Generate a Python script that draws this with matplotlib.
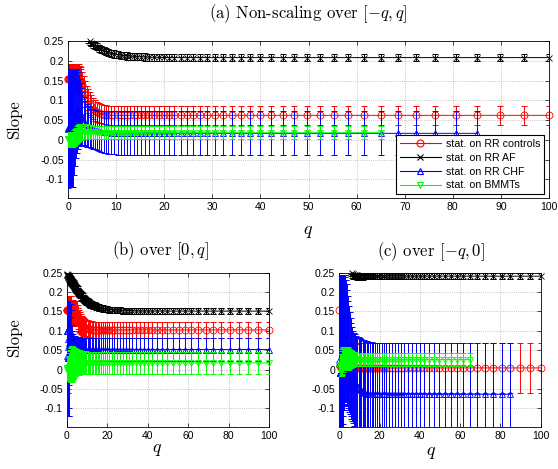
import matplotlib
matplotlib.use('Agg')
import matplotlib.pyplot as plt
from matplotlib.lines import Line2D

plt.rcParams['font.family'] = ['Liberation Sans', 'DejaVu Sans']
plt.rcParams['mathtext.fontset'] = 'cm'

# ---------------- q grid (same for all panels) ----------------
Q = [0, 0.1, 0.2, 0.3, 0.4, 0.5, 0.6, 0.7, 0.8, 0.9, 1.0,
     1.2, 1.4, 1.6, 1.8, 2.0, 2.2, 2.4, 2.6, 2.8, 3.0,
     3.3, 3.6, 3.9, 4.2, 4.5, 4.8, 5.2, 5.6, 6.0, 6.4,
     6.9, 7.4, 7.9, 8.4, 9.0, 9.6, 10.3, 11.0, 11.6, 12.3,
     12.9, 13.7, 14.4, 15.2, 16.0, 16.9, 17.9, 18.9, 19.9, 21.0,
     22.1, 23.4, 24.7, 26.0, 27.5, 29.0, 30.6, 32.3, 34.0, 35.9,
     37.9, 40.0, 42.2, 44.6, 47.0, 49.6, 52.4, 55.3, 58.3, 61.6,
     65.0, 68.6, 72.4, 76.4, 80.6, 85.0, 89.8, 94.7, 100.0]

# ---------------- (a) non-scaling over [-q, q] ----------------
A_RED_MEAN = [0.155, 0.155, 0.155, 0.155, 0.155, 0.155, 0.155, 0.155, 0.155, 0.155, 0.155,
              0.155, 0.155, 0.155, 0.155, 0.155, 0.155, 0.152, 0.149, 0.145, 0.138,
              0.129, 0.116, 0.106, 0.098, 0.091, 0.085, 0.079, 0.074, 0.071, 0.068,
              0.066, 0.064, 0.063, 0.0625, 0.062, 0.062, 0.062, 0.062, 0.062, 0.062,
              0.062, 0.062, 0.062, 0.062, 0.062, 0.062, 0.062, 0.062, 0.062, 0.062,
              0.062, 0.062, 0.062, 0.062, 0.062, 0.062, 0.062, 0.062, 0.062, 0.062,
              0.062, 0.062, 0.062, 0.062, 0.062, 0.062, 0.062, 0.062, 0.062, 0.062,
              0.062, 0.062, 0.062, 0.062, 0.062, 0.062, 0.062, 0.062, 0.062]
A_RED_ERR = [0.037, 0.037, 0.037, 0.037, 0.037, 0.037, 0.037, 0.037, 0.037, 0.037, 0.037,
             0.037, 0.037, 0.037, 0.037, 0.037, 0.037, 0.036, 0.036, 0.035, 0.034,
             0.033, 0.032, 0.031, 0.030, 0.029, 0.028, 0.027, 0.026, 0.025, 0.025,
             0.024, 0.024, 0.024, 0.024, 0.024, 0.024, 0.024, 0.024, 0.024, 0.024,
             0.024, 0.024, 0.024, 0.024, 0.024, 0.024, 0.024, 0.024, 0.024, 0.024,
             0.024, 0.024, 0.024, 0.024, 0.024, 0.024, 0.024, 0.024, 0.024, 0.024,
             0.024, 0.024, 0.024, 0.024, 0.024, 0.024, 0.024, 0.024, 0.024, 0.024,
             0.024, 0.024, 0.024, 0.024, 0.024, 0.024, 0.024, 0.024, 0.024]
A_BLACK_MEAN = [0.34, 0.335, 0.33, 0.325, 0.32, 0.316, 0.312, 0.308, 0.304, 0.3, 0.297,
                0.292, 0.288, 0.285, 0.282, 0.279, 0.2765, 0.2745, 0.2725, 0.2705, 0.2685,
                0.266, 0.263, 0.258, 0.254, 0.25, 0.246, 0.242, 0.238, 0.235, 0.232,
                0.229, 0.226, 0.223, 0.221, 0.219, 0.217, 0.2155, 0.214, 0.213, 0.212,
                0.2115, 0.211, 0.2105, 0.21, 0.2095, 0.209, 0.2087, 0.2085, 0.2083, 0.2082,
                0.208, 0.208, 0.208, 0.208, 0.208, 0.208, 0.208, 0.208, 0.208, 0.208,
                0.208, 0.208, 0.208, 0.208, 0.208, 0.208, 0.208, 0.208, 0.208, 0.208,
                0.208, 0.208, 0.208, 0.208, 0.208, 0.208, 0.208, 0.208, 0.208]
A_BLACK_ERR = [0.009, 0.009, 0.009, 0.009, 0.009, 0.009, 0.009, 0.009, 0.009, 0.009, 0.009,
               0.009, 0.009, 0.009, 0.009, 0.009, 0.009, 0.009, 0.009, 0.009, 0.009,
               0.009, 0.009, 0.009, 0.009, 0.009, 0.009, 0.009, 0.009, 0.009, 0.009,
               0.009, 0.009, 0.009, 0.009, 0.009, 0.009, 0.009, 0.009, 0.009, 0.009,
               0.009, 0.009, 0.009, 0.009, 0.009, 0.009, 0.009, 0.009, 0.009, 0.009,
               0.009, 0.009, 0.009, 0.009, 0.009, 0.009, 0.009, 0.009, 0.009, 0.009,
               0.009, 0.009, 0.009, 0.009, 0.009, 0.009, 0.009, 0.009, 0.009, 0.009,
               0.009, 0.009, 0.009, 0.009, 0.009, 0.009, 0.009, 0.009, 0.009]
A_BLUE_MEAN = [0.028, 0.029, 0.029, 0.029, 0.029, 0.029, 0.029, 0.029, 0.029, 0.029, 0.029,
               0.044, 0.0565, 0.0665, 0.072, 0.075, 0.0745, 0.071, 0.0655, 0.06, 0.054,
               0.047, 0.041, 0.037, 0.034, 0.0315, 0.0295, 0.0275, 0.026, 0.024, 0.023,
               0.022, 0.0205, 0.0195, 0.019, 0.018, 0.0178, 0.017, 0.0165, 0.0165, 0.0165,
               0.0165, 0.0165, 0.0165, 0.0165, 0.0165, 0.0165, 0.0165, 0.0165, 0.0165, 0.0165,
               0.0165, 0.0165, 0.0165, 0.0165, 0.0165, 0.0165, 0.0165, 0.0165, 0.0165, 0.0165,
               0.0165, 0.0165, 0.0165, 0.0165, 0.0165, 0.0165, 0.0165, 0.0165, 0.0165, 0.0165,
               0.0165, 0.0165, 0.0165, 0.0165, 0.0165, 0.0165]
A_BLUE_ERR = [0.15, 0.149, 0.149, 0.149, 0.149, 0.149, 0.149, 0.149, 0.149, 0.149, 0.149,
              0.134, 0.1215, 0.1115, 0.104, 0.097, 0.0905, 0.084, 0.0775, 0.072, 0.067,
              0.061, 0.057, 0.054, 0.052, 0.0505, 0.0495, 0.0495, 0.0495, 0.05, 0.051,
              0.0515, 0.0525, 0.0535, 0.054, 0.0545, 0.0548, 0.055, 0.0555, 0.0555, 0.0555,
              0.0555, 0.0555, 0.0555, 0.0555, 0.0555, 0.0555, 0.0555, 0.0555, 0.0555, 0.0555,
              0.0555, 0.0555, 0.0555, 0.0555, 0.0555, 0.0555, 0.0555, 0.0555, 0.0555, 0.0555,
              0.0555, 0.0555, 0.0555, 0.0555, 0.0555, 0.0555, 0.0555, 0.0555, 0.0555, 0.0555,
              0.0555, 0.0555, 0.0555, 0.0555, 0.0555, 0.0555]
A_GREEN_MEAN = [0.0015, 0.0015, 0.0015, 0.0015, 0.0015, 0.0015, 0.0015, 0.0015, 0.0015, 0.0015, 0.0015,
                0.004, 0.007, 0.01, 0.013, 0.016, 0.018, 0.0195, 0.02, 0.0205, 0.021,
                0.021, 0.0208, 0.0205, 0.02, 0.0197, 0.0193, 0.019, 0.0187, 0.0185, 0.018,
                0.018, 0.018, 0.018, 0.018, 0.018, 0.018, 0.018, 0.018, 0.018, 0.018,
                0.018, 0.018, 0.018, 0.018, 0.018, 0.018, 0.018, 0.018, 0.018, 0.018,
                0.018, 0.018, 0.018, 0.018, 0.018, 0.018, 0.018, 0.018, 0.018, 0.018,
                0.018, 0.018, 0.018, 0.018, 0.018, 0.018, 0.018, 0.018, 0.018, 0.018,
                0.018]
A_GREEN_ERR = [0.0195, 0.0195, 0.0195, 0.0195, 0.0195, 0.0195, 0.0195, 0.0195, 0.0195, 0.0195, 0.0195,
               0.02, 0.02, 0.021, 0.021, 0.021, 0.021, 0.021, 0.0205, 0.02, 0.0198,
               0.0195, 0.019, 0.0185, 0.018, 0.0178, 0.0175, 0.0173, 0.0172, 0.0171, 0.017,
               0.017, 0.017, 0.017, 0.017, 0.017, 0.017, 0.017, 0.017, 0.017, 0.017,
               0.017, 0.017, 0.017, 0.017, 0.017, 0.017, 0.017, 0.017, 0.017, 0.017,
               0.017, 0.017, 0.017, 0.017, 0.017, 0.017, 0.017, 0.017, 0.017, 0.017,
               0.017, 0.017, 0.017, 0.017, 0.017, 0.017, 0.017, 0.017, 0.017, 0.017,
               0.017]

# ---------------- (b) over [0, q] ----------------
B_RED_MEAN = [0.155, 0.155, 0.155, 0.155, 0.155, 0.155, 0.155, 0.155, 0.155, 0.155, 0.155,
              0.155, 0.155, 0.155, 0.155, 0.155, 0.147, 0.147, 0.147, 0.147, 0.147,
              0.145, 0.145, 0.145, 0.145, 0.145, 0.145, 0.137, 0.13, 0.125, 0.121,
              0.117, 0.114, 0.112, 0.11, 0.1085, 0.107, 0.106, 0.1045, 0.104, 0.1035,
              0.103, 0.103, 0.103, 0.103, 0.1025, 0.1025, 0.1025, 0.1025, 0.1025, 0.1025,
              0.1025, 0.1025, 0.1025, 0.1025, 0.1025, 0.1025, 0.1025, 0.1025, 0.1025, 0.1025,
              0.1025, 0.1025, 0.1025, 0.1025, 0.1025, 0.1025, 0.1025, 0.1025, 0.1025, 0.1025,
              0.1025, 0.1025, 0.1025, 0.1025, 0.1025, 0.1025, 0.1025, 0.1025, 0.1025]
B_RED_ERR = [0.035, 0.035, 0.035, 0.035, 0.035, 0.035, 0.035, 0.035, 0.035, 0.035, 0.035,
             0.035, 0.035, 0.035, 0.035, 0.035, 0.033, 0.033, 0.033, 0.033, 0.033,
             0.033, 0.033, 0.033, 0.033, 0.033, 0.033, 0.031, 0.03, 0.028, 0.027,
             0.026, 0.025, 0.024, 0.023, 0.0225, 0.022, 0.0215, 0.021, 0.021, 0.021,
             0.021, 0.021, 0.021, 0.021, 0.021, 0.021, 0.021, 0.021, 0.021, 0.021,
             0.021, 0.021, 0.021, 0.021, 0.021, 0.021, 0.021, 0.021, 0.021, 0.021,
             0.021, 0.021, 0.021, 0.021, 0.021, 0.021, 0.021, 0.021, 0.021, 0.021,
             0.021, 0.021, 0.021, 0.021, 0.021, 0.021, 0.021, 0.021, 0.021]
B_BLACK_MEAN = [0.246, 0.245, 0.244, 0.243, 0.242, 0.241, 0.24, 0.239, 0.238, 0.237, 0.236,
                0.2345, 0.233, 0.2315, 0.23, 0.2285, 0.227, 0.2255, 0.224, 0.2225, 0.221,
                0.219, 0.2165, 0.214, 0.2115, 0.209, 0.2065, 0.2035, 0.2005, 0.1975, 0.1948,
                0.1915, 0.1885, 0.1855, 0.1828, 0.18, 0.1772, 0.1745, 0.172, 0.17, 0.168,
                0.1663, 0.1645, 0.163, 0.1615, 0.16, 0.1588, 0.1576, 0.1565, 0.1557, 0.155,
                0.1543, 0.1537, 0.1532, 0.1528, 0.1524, 0.1521, 0.1518, 0.1515, 0.1513, 0.1511,
                0.151, 0.151, 0.151, 0.151, 0.151, 0.151, 0.151, 0.151, 0.151, 0.151,
                0.151, 0.151, 0.151, 0.151, 0.151, 0.151, 0.151, 0.151, 0.151]
B_BLACK_ERR = [0.011, 0.011, 0.011, 0.011, 0.011, 0.011, 0.011, 0.011, 0.011, 0.011, 0.011,
               0.011, 0.011, 0.011, 0.011, 0.011, 0.011, 0.011, 0.011, 0.011, 0.011,
               0.011, 0.011, 0.011, 0.011, 0.011, 0.011, 0.011, 0.011, 0.011, 0.011,
               0.011, 0.011, 0.011, 0.011, 0.011, 0.011, 0.0105, 0.01, 0.0098, 0.0095,
               0.0092, 0.009, 0.0088, 0.0086, 0.0084, 0.0082, 0.008, 0.0079, 0.0078, 0.0077,
               0.0076, 0.0076, 0.0076, 0.0076, 0.0076, 0.0076, 0.0076, 0.0076, 0.0076, 0.0076,
               0.0075, 0.0075, 0.0075, 0.0075, 0.0075, 0.0075, 0.0075, 0.0075, 0.0075, 0.0075,
               0.0075, 0.0075, 0.0075, 0.0075, 0.0075, 0.0075, 0.0075, 0.0075, 0.0075]
B_BLUE_MEAN = [0.036, 0.099, 0.099, 0.099, 0.079, 0.059, 0.029, 0.029, 0.029, 0.029, 0.039,
               0.069, 0.089, 0.0955, 0.096, 0.09, 0.08, 0.07, 0.0625, 0.058, 0.0555,
               0.0545, 0.054, 0.0538, 0.0536, 0.0534, 0.0532, 0.053, 0.0528, 0.0527, 0.0526,
               0.0525, 0.0524, 0.0523, 0.0522, 0.0521, 0.052, 0.052, 0.052, 0.052, 0.052,
               0.052, 0.052, 0.052, 0.052, 0.052, 0.052, 0.052, 0.052, 0.052, 0.052,
               0.052, 0.052, 0.052, 0.052, 0.052, 0.052, 0.052, 0.052, 0.052, 0.052,
               0.052, 0.052, 0.052, 0.052, 0.052, 0.052, 0.052, 0.052, 0.052, 0.052,
               0.052, 0.052, 0.052, 0.052, 0.052, 0.052, 0.052, 0.052, 0.052]
B_BLUE_ERR = [0.02, 0.079, 0.079, 0.079, 0.099, 0.119, 0.149, 0.149, 0.149, 0.149, 0.139,
              0.109, 0.089, 0.0805, 0.074, 0.065, 0.055, 0.045, 0.0375, 0.034, 0.0325,
              0.0325, 0.032, 0.0318, 0.0316, 0.0314, 0.0312, 0.031, 0.0308, 0.0306, 0.0304,
              0.0302, 0.03, 0.0298, 0.0296, 0.0294, 0.0292, 0.029, 0.029, 0.029, 0.029,
              0.029, 0.029, 0.029, 0.029, 0.029, 0.029, 0.029, 0.029, 0.029, 0.029,
              0.029, 0.029, 0.029, 0.029, 0.029, 0.029, 0.029, 0.029, 0.029, 0.029,
              0.029, 0.029, 0.029, 0.029, 0.029, 0.029, 0.029, 0.029, 0.029, 0.029,
              0.029, 0.029, 0.029, 0.029, 0.029, 0.029, 0.029, 0.029, 0.029]
B_GREEN_MEAN = [0.0, 0.005, 0.005, 0.005, 0.005, 0.005, 0.005, 0.005, 0.005, 0.005, 0.005,
                0.008, 0.01, 0.011, 0.012, 0.012, 0.013, 0.014, 0.015, 0.016, 0.017,
                0.018, 0.019, 0.019, 0.0195, 0.0195, 0.0195, 0.0195, 0.019, 0.019, 0.0188,
                0.0186, 0.0184, 0.0182, 0.018, 0.0178, 0.0177, 0.0176, 0.0175, 0.0175, 0.0175,
                0.0175, 0.0175, 0.0175, 0.0175, 0.0175, 0.0175, 0.0175, 0.0175, 0.0175, 0.0175,
                0.0175, 0.0175, 0.0175, 0.0175, 0.0175, 0.0175, 0.0175, 0.0175, 0.0175, 0.0175,
                0.0175, 0.0175, 0.0175, 0.0175, 0.0175, 0.0175, 0.0175, 0.0175, 0.0175, 0.0175,
                0.0175, 0.0175, 0.0175, 0.0175, 0.0175, 0.0175, 0.0175, 0.0175, 0.0175]
B_GREEN_ERR = [0.01, 0.03, 0.03, 0.03, 0.03, 0.03, 0.03, 0.03, 0.03, 0.03, 0.03,
               0.034, 0.038, 0.041, 0.043, 0.045, 0.046, 0.046, 0.045, 0.043, 0.041,
               0.039, 0.037, 0.036, 0.035, 0.034, 0.033, 0.0325, 0.032, 0.0315, 0.031,
               0.0305, 0.03, 0.0298, 0.0296, 0.0294, 0.0292, 0.029, 0.0288, 0.0286, 0.0285,
               0.0285, 0.0285, 0.0285, 0.0285, 0.0285, 0.0285, 0.0285, 0.0285, 0.0285, 0.0285,
               0.0285, 0.0285, 0.0285, 0.0285, 0.0285, 0.0285, 0.0285, 0.0285, 0.0285, 0.0285,
               0.0285, 0.0285, 0.0285, 0.0285, 0.0285, 0.0285, 0.0285, 0.0285, 0.0285, 0.0285,
               0.0285, 0.0285, 0.0285, 0.0285, 0.0285, 0.0285, 0.0285, 0.0285, 0.0285]

# ---------------- (c) over [-q, 0] ----------------
C_RED_MEAN = [0.155, 0.01, 0.01, 0.01, 0.01, 0.01, 0.01, 0.01, 0.01, 0.01, 0.01,
              0.009, 0.009, 0.009, 0.009, 0.009, 0.009, 0.009, 0.009, 0.009, 0.009,
              0.008, 0.008, 0.008, 0.008, 0.008, 0.008, 0.008, 0.008, 0.008, 0.008,
              0.007, 0.0065, 0.006, 0.0055, 0.005, 0.005, 0.005, 0.005, 0.005, 0.005,
              0.0045, 0.0045, 0.0045, 0.0045, 0.0045, 0.0045, 0.0045, 0.0045, 0.0045, 0.0045,
              0.0045, 0.0045, 0.0045, 0.0045, 0.0045, 0.0045, 0.0045, 0.0045, 0.0045, 0.0045,
              0.0045, 0.0045, 0.0045, 0.0045, 0.0045, 0.0045, 0.0045, 0.0045, 0.0045, 0.0045,
              0.0045, 0.0045, 0.0045, 0.0045, 0.0045, 0.0045, 0.0045, 0.0045, 0.0045]
C_RED_ERR = [0.035, 0.04, 0.04, 0.04, 0.04, 0.04, 0.04, 0.04, 0.04, 0.04, 0.04,
             0.045, 0.045, 0.045, 0.045, 0.045, 0.045, 0.045, 0.045, 0.045, 0.045,
             0.05, 0.05, 0.05, 0.05, 0.05, 0.055, 0.055, 0.055, 0.055, 0.055,
             0.06, 0.06, 0.06, 0.06, 0.06, 0.063, 0.063, 0.063, 0.063, 0.063,
             0.0645, 0.0645, 0.0645, 0.0645, 0.0645, 0.0645, 0.0645, 0.0645, 0.0645, 0.0645,
             0.0645, 0.0645, 0.0645, 0.0645, 0.0645, 0.0645, 0.0645, 0.0645, 0.0645, 0.0645,
             0.0645, 0.0645, 0.0645, 0.0645, 0.0645, 0.0645, 0.0645, 0.0645, 0.0645, 0.0645,
             0.0645, 0.0645, 0.0645, 0.0645, 0.0645, 0.0645, 0.0645, 0.0645, 0.0645]
C_BLACK_MEAN = [0.36, 0.356, 0.352, 0.348, 0.344, 0.34, 0.336, 0.332, 0.328, 0.325, 0.322,
                0.318, 0.315, 0.312, 0.309, 0.306, 0.303, 0.3, 0.297, 0.294, 0.29,
                0.285, 0.282, 0.279, 0.275, 0.271, 0.267, 0.262, 0.257, 0.252, 0.248,
                0.2455, 0.2445, 0.244, 0.2435, 0.243, 0.2427, 0.2424, 0.2421, 0.2418, 0.2416,
                0.2414, 0.2412, 0.241, 0.241, 0.241, 0.241, 0.241, 0.241, 0.241, 0.241,
                0.241, 0.241, 0.241, 0.241, 0.241, 0.241, 0.241, 0.241, 0.241, 0.241,
                0.241, 0.241, 0.241, 0.241, 0.241, 0.241, 0.241, 0.241, 0.241, 0.241,
                0.241, 0.241, 0.241, 0.241, 0.241, 0.241, 0.241, 0.241, 0.241]
C_BLACK_ERR = [0.011, 0.011, 0.011, 0.011, 0.011, 0.011, 0.011, 0.011, 0.011, 0.011, 0.011,
               0.011, 0.011, 0.011, 0.011, 0.011, 0.011, 0.011, 0.011, 0.011, 0.011,
               0.011, 0.011, 0.011, 0.011, 0.011, 0.011, 0.011, 0.011, 0.011, 0.011,
               0.011, 0.011, 0.011, 0.011, 0.011, 0.011, 0.0105, 0.01, 0.0095, 0.009,
               0.0088, 0.0086, 0.0084, 0.0082, 0.008, 0.0078, 0.0076, 0.0075, 0.0075, 0.0075,
               0.0075, 0.0075, 0.0075, 0.0075, 0.0075, 0.0075, 0.0075, 0.0075, 0.0075, 0.0075,
               0.0075, 0.0075, 0.0075, 0.0075, 0.0075, 0.0075, 0.0075, 0.0075, 0.0075, 0.0075,
               0.0075, 0.0075, 0.0075, 0.0075, 0.0075, 0.0075, 0.0075, 0.0075, 0.0075]
C_BLUE_MEAN = [0.025, -0.0085, -0.0085, -0.0085, -0.0085, -0.0085, -0.0085, -0.0085, -0.0085, -0.0085, -0.0085,
               -0.0085, 0.0265, 0.039, 0.0515, 0.0615, 0.069, 0.0755, 0.0805, 0.083, 0.0805,
               0.0745, 0.066, 0.056, 0.046, 0.0375, 0.0285, 0.017, 0.0065, -0.003, -0.011,
               -0.019, -0.025, -0.0305, -0.036, -0.0415, -0.046, -0.05, -0.0535, -0.056, -0.0585,
               -0.06, -0.0615, -0.062, -0.0623, -0.0627, -0.063, -0.0633, -0.0635, -0.0635, -0.0635,
               -0.0635, -0.0635, -0.0635, -0.0635, -0.0635, -0.0635, -0.0635, -0.0635, -0.0635, -0.0635,
               -0.0635, -0.0635, -0.0635, -0.0635, -0.0635, -0.0635, -0.0635, -0.0635, -0.0635, -0.0635,
               -0.0635, -0.0635, -0.0635, -0.0635, -0.0635, -0.0635]
C_BLUE_ERR = [0.22, 0.2515, 0.2515, 0.2515, 0.2515, 0.2515, 0.2515, 0.2515, 0.2515, 0.2515, 0.2515,
              0.2515, 0.2165, 0.204, 0.1915, 0.1815, 0.174, 0.1675, 0.1625, 0.16, 0.1595,
              0.1575, 0.154, 0.149, 0.144, 0.1405, 0.1365, 0.131, 0.1265, 0.123, 0.121,
              0.119, 0.12, 0.1215, 0.124, 0.1265, 0.129, 0.131, 0.1325, 0.1335, 0.1345,
              0.135, 0.1345, 0.134, 0.1335, 0.133, 0.1325, 0.132, 0.132, 0.132, 0.132,
              0.132, 0.132, 0.132, 0.132, 0.132, 0.132, 0.132, 0.132, 0.132, 0.132,
              0.132, 0.132, 0.132, 0.132, 0.132, 0.132, 0.132, 0.132, 0.132, 0.132,
              0.132, 0.132, 0.132, 0.132, 0.132, 0.132]
C_GREEN_MEAN = [0.003, 0.012, 0.012, 0.012, 0.012, 0.012, 0.012, 0.012, 0.012, 0.012, 0.012,
                0.017, 0.0215, 0.025, 0.028, 0.028, 0.028, 0.028, 0.028, 0.028, 0.028,
                0.028, 0.028, 0.028, 0.028, 0.028, 0.028, 0.028, 0.0275, 0.027, 0.027,
                0.027, 0.027, 0.0268, 0.0266, 0.0264, 0.0262, 0.026, 0.026, 0.026, 0.026,
                0.026, 0.026, 0.026, 0.026, 0.026, 0.026, 0.026, 0.026, 0.026, 0.026,
                0.026, 0.026, 0.026, 0.026, 0.026, 0.026, 0.026, 0.026, 0.026, 0.026,
                0.026, 0.026, 0.026, 0.026, 0.026, 0.026, 0.026, 0.026, 0.026, 0.026,
                0.026]
C_GREEN_ERR = [0.01, 0.028, 0.028, 0.028, 0.028, 0.028, 0.028, 0.028, 0.028, 0.028, 0.028,
               0.031, 0.0315, 0.031, 0.03, 0.03, 0.03, 0.03, 0.03, 0.03, 0.03,
               0.03, 0.03, 0.03, 0.03, 0.028, 0.026, 0.024, 0.0225, 0.021, 0.02,
               0.019, 0.018, 0.0175, 0.017, 0.0165, 0.016, 0.016, 0.016, 0.016, 0.016,
               0.016, 0.016, 0.016, 0.016, 0.016, 0.016, 0.016, 0.016, 0.016, 0.016,
               0.016, 0.016, 0.016, 0.016, 0.016, 0.016, 0.016, 0.016, 0.016, 0.016,
               0.016, 0.016, 0.016, 0.016, 0.016, 0.016, 0.016, 0.016, 0.016, 0.016,
               0.016]

LABELS = ['stat. on RR controls', 'stat. on RR AF', 'stat. on RR CHF', 'stat. on BMMTs']
COLORS = ['#ff0000', '#000000', '#0000ff', '#00ff00']
MARKERS = ['o', 'x', '^', 'v']
Y_TICKS = [-0.1, -0.05, 0, 0.05, 0.1, 0.15, 0.2, 0.25]
Y_TICKLABELS = ['-0.1', '-0.05', '0', '0.05', '0.1', '0.15', '0.2', '0.25']
YLIM = (-0.147, 0.25)

CM = 'cmr10'


def draw_panel(ax, means, errs, xticks):
    for i, (m, e) in enumerate(zip(means, errs)):
        q = Q[:len(m)]
        ax.errorbar(q, m, yerr=e, fmt='-', color=COLORS[i], lw=0.7,
                    elinewidth=0.7, capsize=2.5, capthick=0.7, zorder=2 + i)
        # matlab draws whole markers for every point inside the limits
        xs = [x for x, y in zip(q, m) if YLIM[0] <= y <= YLIM[1]]
        ys = [y for y in m if YLIM[0] <= y <= YLIM[1]]
        ax.plot(xs, ys, ls='none', marker=MARKERS[i], ms=5 if i != 1 else 4,
                mfc='none', mec=COLORS[i], mew=0.6, clip_on=False, zorder=2.5 + i)
    ax.set_xlim(0, 100)
    ax.set_ylim(*YLIM)
    ax.set_xticks(xticks)
    ax.set_yticks(Y_TICKS)
    ax.set_yticklabels(Y_TICKLABELS)
    ax.grid(True, ls=':', color='#b0b0b0', lw=0.6)
    ax.set_axisbelow(True)
    ax.tick_params(direction='in', length=3, width=0.5, top=True, right=True,
                   labelsize=7.5, pad=3)
    for s in ax.spines.values():
        s.set_linewidth(0.6)


fig = plt.figure(figsize=(5.58, 4.69), dpi=100)
W, H = 558.0, 469.0

ax_a = fig.add_axes([68 / W, 1 - 198 / H, 481 / W, 157 / H])
draw_panel(ax_a, [A_RED_MEAN, A_BLACK_MEAN, A_BLUE_MEAN, A_GREEN_MEAN],
           [A_RED_ERR, A_BLACK_ERR, A_BLUE_ERR, A_GREEN_ERR], list(range(0, 101, 10)))

ax_b = fig.add_axes([67 / W, 1 - 426.7 / H, 202 / W, 154 / H])
draw_panel(ax_b, [B_RED_MEAN, B_BLACK_MEAN, B_BLUE_MEAN, B_GREEN_MEAN],
           [B_RED_ERR, B_BLACK_ERR, B_BLUE_ERR, B_GREEN_ERR], list(range(0, 101, 20)))

ax_c = fig.add_axes([339.3 / W, 1 - 426.7 / H, 201.4 / W, 154 / H])
draw_panel(ax_c, [C_RED_MEAN, C_BLACK_MEAN, C_BLUE_MEAN, C_GREEN_MEAN],
           [C_RED_ERR, C_BLACK_ERR, C_BLUE_ERR, C_GREEN_ERR], list(range(0, 101, 20)))

handles = [Line2D([0], [0], color=COLORS[i], lw=0.8, marker=MARKERS[i], mfc='none',
                  ms=5 if i != 1 else 4, mew=0.8) for i in range(4)]
leg = ax_a.legend(handles, LABELS, loc='lower right', bbox_to_anchor=(0.99, 0.025),
                  borderaxespad=0, fontsize=7.7, frameon=True, fancybox=False,
                  edgecolor='black', framealpha=1, handlelength=3.8,
                  labelspacing=0.35, borderpad=0.35, handletextpad=0.5)
leg.get_frame().set_linewidth(0.8)
leg.set_zorder(20)

# titles and labels (LaTeX-like roman)
fig.text(308 / W, 1 - 14 / H, r'(a) Non-scaling over $[-q,q]$', fontfamily=CM,
         fontsize=12, ha='center', va='center')
fig.text(160 / W, 1 - 251 / H, r'(b) over $[0,q]$', fontfamily=CM,
         fontsize=12, ha='center', va='center')
fig.text(431 / W, 1 - 252 / H, r'(c) over $[-q,0]$', fontfamily=CM,
         fontsize=12, ha='center', va='center')
fig.text(308 / W, 1 - 231 / H, r'$q$', fontsize=13, ha='center', va='center')
fig.text(157 / W, 1 - 449 / H, r'$q$', fontsize=13, ha='center', va='center')
fig.text(431 / W, 1 - 452 / H, r'$q$', fontsize=13, ha='center', va='center')
fig.text(14 / W, 1 - 120 / H, 'Slope', fontfamily=CM, fontsize=12,
         rotation=90, ha='center', va='center')
fig.text(14 / W, 1 - 338 / H, 'Slope', fontfamily=CM, fontsize=12,
         rotation=90, ha='center', va='center')

fig.savefig('out.png', dpi=100)
